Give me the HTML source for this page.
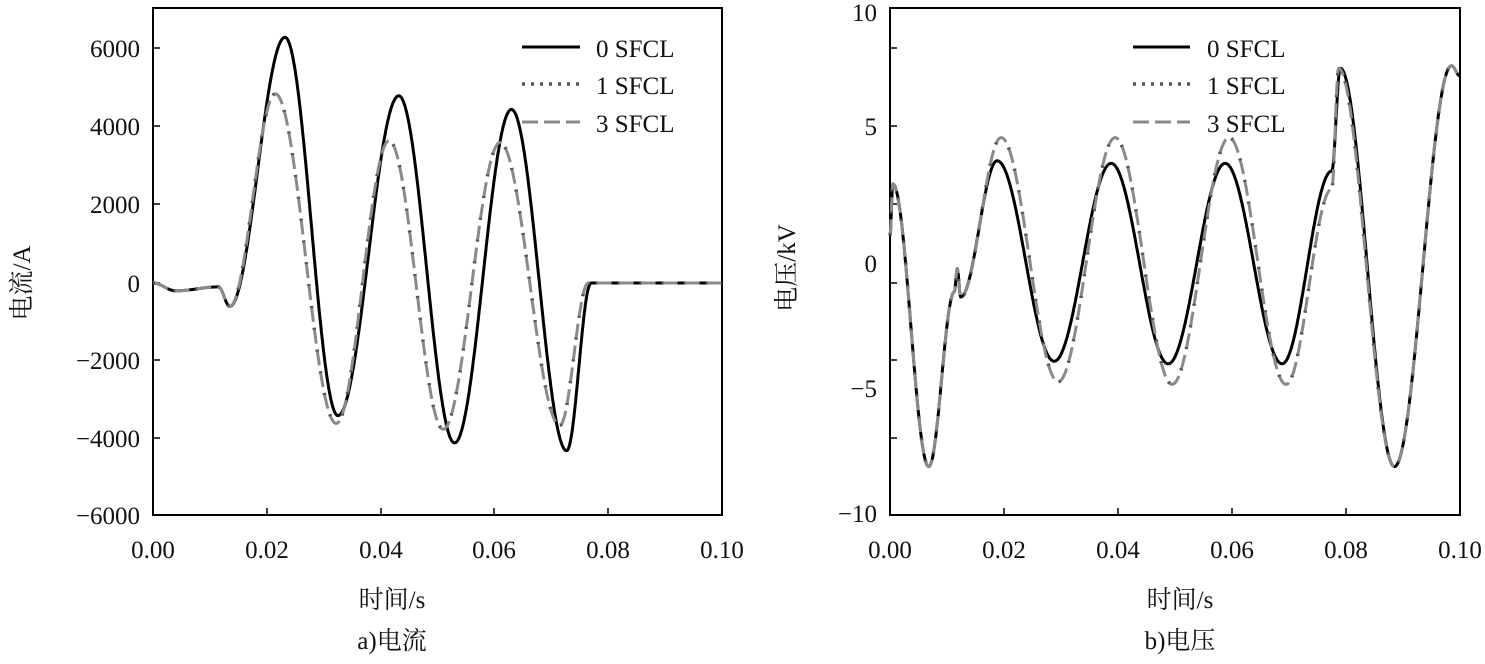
<!DOCTYPE html>
<html><head><meta charset="utf-8"><style>
body{margin:0;background:#fff;}
svg text{font-family:"Liberation Serif","Noto Serif CJK SC",serif;fill:#111;}
</style></head><body>
<svg id="s" width="1485" height="659" xmlns="http://www.w3.org/2000/svg">
<g font-size="25">
<rect x="153" y="8" width="569" height="507" fill="none" stroke="#000" stroke-width="2"/>
<rect x="890" y="8" width="570" height="507" fill="none" stroke="#000" stroke-width="2"/>
<g text-anchor="end">
<text x="140" y="57">6000</text><text x="140" y="135">4000</text><text x="140" y="213">2000</text><text x="140" y="292">0</text><text x="140" y="369">−2000</text><text x="140" y="447">−4000</text><text x="140" y="524">−6000</text>
<text x="877" y="21">10</text><text x="877" y="135">5</text><text x="877" y="272">0</text><text x="877" y="397">−5</text><text x="877" y="522">−10</text>
</g>
<g text-anchor="middle">
<text x="153" y="558">0.00</text><text x="267" y="558">0.02</text><text x="381" y="558">0.04</text><text x="494" y="558">0.06</text><text x="608" y="558">0.08</text><text x="722" y="558">0.10</text>
<text x="890" y="558">0.00</text><text x="1004" y="558">0.02</text><text x="1118" y="558">0.04</text><text x="1232" y="558">0.06</text><text x="1346" y="558">0.08</text><text x="1460" y="558">0.10</text>
<text x="392" y="608">时间/s</text><text x="392" y="649">a)电流</text>
<text x="1180" y="608">时间/s</text><text x="1180" y="649">b)电压</text>
</g>
<text transform="translate(30,283) rotate(-90)" text-anchor="middle">电流/A</text>
<text transform="translate(795,268) rotate(-90)" text-anchor="middle">电压/kV</text>
<text x="596" y="57">0 SFCL</text><text x="596" y="94">1 SFCL</text><text x="596" y="132">3 SFCL</text>
<text x="1207" y="57">0 SFCL</text><text x="1207" y="94">1 SFCL</text><text x="1207" y="132">3 SFCL</text>
<line x1="522" y1="47" x2="580" y2="47" stroke="#000" stroke-width="3"/>
<line x1="522" y1="84" x2="580" y2="84" stroke="#555" stroke-width="3.5" stroke-dasharray="3,6"/>
<line x1="522" y1="122" x2="580" y2="122" stroke="#888" stroke-width="3" stroke-dasharray="16,6"/>
<line x1="1133" y1="47" x2="1190" y2="47" stroke="#000" stroke-width="3"/>
<line x1="1133" y1="84" x2="1190" y2="84" stroke="#555" stroke-width="3.5" stroke-dasharray="3,6"/>
<line x1="1133" y1="122" x2="1190" y2="122" stroke="#888" stroke-width="3" stroke-dasharray="16,6"/>
</g>
<g id="ticks" stroke="#000" stroke-width="1.5"></g>
<g id="curves" fill="none" stroke-linejoin="round"></g>
</svg>
<script>
function interp(pts,t){for(let i=0;i<pts.length-1;i++){const a=pts[i],b=pts[i+1];if(t>=a[0]&&t<=b[0]){const u=(t-a[0])/(b[0]-a[0]);const s=(1-Math.cos(Math.PI*u))/2;return a[1]+(b[1]-a[1])*s;}}return pts[pts.length-1][1];}
function path(pts,fx,fy){let d="";for(let i=0;i<=1000;i++){const t=0.1*i/1000;d+=(i?"L":"M")+fx(t).toFixed(1)+","+fy(interp(pts,t)).toFixed(1);}return d;}
const L0=[[0,0],[0.004,-200],[0.0115,-100],[0.0135,-600],[0.0232,6300],[0.0325,-3400],[0.0432,4800],[0.053,-4100],[0.063,4450],[0.0727,-4300],[0.077,0],[0.1,0]];
const L3=[[0,0],[0.004,-200],[0.0115,-100],[0.0135,-600],[0.0215,4850],[0.0322,-3600],[0.0415,3650],[0.051,-3750],[0.061,3600],[0.0715,-3650],[0.0765,0],[0.1,0]];
const V0=[[0,1],[0.0005,3],[0.0068,-8],[0.0113,-1.2],[0.0118,-0.3],[0.0124,-1.4],[0.0188,3.9],[0.0288,-3.9],[0.0388,3.8],[0.0488,-4],[0.0588,3.8],[0.0688,-4],[0.0775,3.5],[0.079,7.5],[0.0885,-8],[0.0985,7.6],[0.1,7.2]];
const V3=[[0,1],[0.0005,3],[0.0068,-8],[0.0113,-1.2],[0.0118,-0.3],[0.0124,-1.4],[0.0195,4.8],[0.0295,-4.7],[0.0395,4.8],[0.0495,-4.8],[0.0595,4.8],[0.0695,-4.8],[0.0775,2.8],[0.0787,7.5],[0.0885,-8],[0.0985,7.6],[0.1,7.2]];
const fxL=t=>153+t*5690, fyL=v=>283-v*0.039;
const fxR=t=>890+t*5700, fyR=v=>261-v*25.7;
const c=document.getElementById("curves");
function add(d,st,w,da){const p=document.createElementNS("http://www.w3.org/2000/svg","path");p.setAttribute("d",d);p.setAttribute("stroke",st);p.setAttribute("stroke-width",w);if(da)p.setAttribute("stroke-dasharray",da);c.appendChild(p);}
add(path(L0,fxL,fyL),"#000",3);add(path(L3,fxL,fyL),"#8a8a8a",3,"16,6");add(path(L3,fxL,fyL),"#555",3.5,"2,20");
add(path(V0,fxR,fyR),"#000",3);add(path(V3,fxR,fyR),"#8a8a8a",3,"16,6");add(path(V3,fxR,fyR),"#555",3.5,"2,20");
const tk=document.getElementById("ticks");let s="";
[48,126,204,283,360,438].forEach(y=>{s+=`<line x1="153" y1="${y}" x2="160" y2="${y}"/><line x1="890" y1="${y}" x2="897" y2="${y}"/>`;});
[267,381,494,608].forEach(x=>{s+=`<line x1="${x}" y1="515" x2="${x}" y2="508"/>`;});
[1004,1118,1232,1346].forEach(x=>{s+=`<line x1="${x}" y1="515" x2="${x}" y2="508"/>`;});
tk.innerHTML=s;
</script>
</body></html>
